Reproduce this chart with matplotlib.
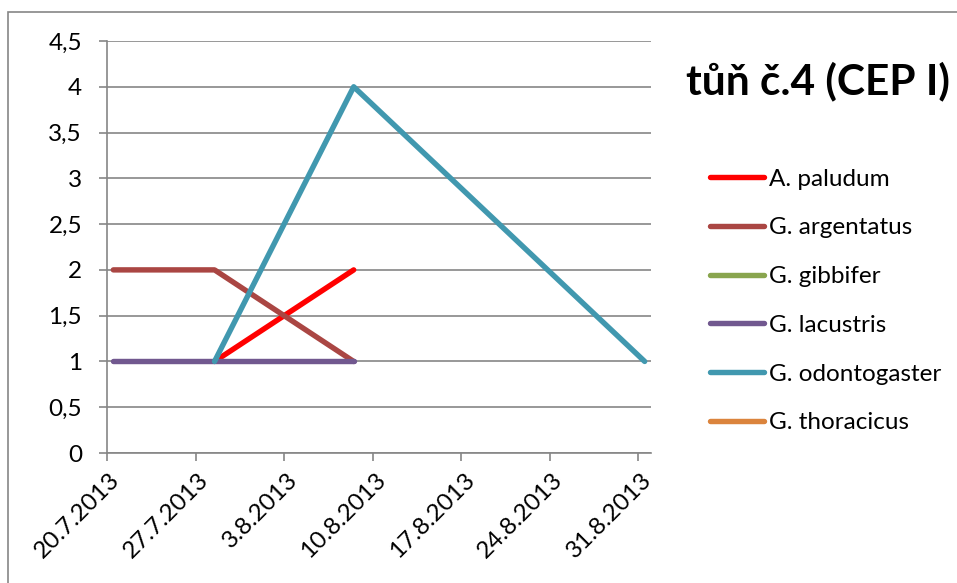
import matplotlib
matplotlib.use("Agg")

import numpy as np
import matplotlib.pyplot as plt
import matplotlib.transforms as mtransforms
from matplotlib.patches import Rectangle
from datetime import datetime, timedelta

plt.rcParams["font.family"] = ["Lato", "DejaVu Sans"]

# odběry (datum) a počty jedinců jednotlivých druhů
dates = ["20.7.2013", "28.7.2013", "8.8.2013", "31.8.2013"]
species = ["A. paludum", "G. argentatus", "G. gibbifer",
           "G. lacustris", "G. odontogaster", "G. thoracicus"]
a_paludum = [np.nan, 1, 2, np.nan]
g_argentatus = [2, 2, 1, np.nan]
g_gibbifer = [np.nan, np.nan, np.nan, np.nan]
g_lacustris = [1, 1, 1, np.nan]
g_odontogaster = [np.nan, 1, 4, 1]
g_thoracicus = [np.nan, np.nan, np.nan, np.nan]
series = [a_paludum, g_argentatus, g_gibbifer, g_lacustris, g_odontogaster, g_thoracicus]
colors = ["#FF0000", "#AA4643", "#89A54E", "#71588F", "#4198AF", "#DB843D"]

tick_dates = ["20.7.2013", "27.7.2013", "3.8.2013", "10.8.2013",
              "17.8.2013", "24.8.2013", "31.8.2013"]

W, H = 957, 583
fig = plt.figure(figsize=(W / 100, H / 100), dpi=100)
ax = fig.add_axes([107 / W, 1 - 453 / H, (651 - 107) / W, (453 - 41) / H])

parse = lambda s: datetime.strptime(s, "%d.%m.%Y")
# body leží uprostřed dne (jako v Excelu)
xs = [parse(d) + timedelta(hours=12) for d in dates]

grey = "#868686"
for vals, col, name in zip(series, colors, species):
    y = np.array(vals, dtype=float)
    m = ~np.isnan(y)
    ax.plot(np.array(xs)[m], y[m], color=col, lw=3.9, label=name,
            solid_capstyle="round", solid_joinstyle="round", zorder=3)

ax.set_xlim(parse(dates[0]), parse(dates[-1]) + timedelta(days=1))
ax.set_ylim(0, 4.5)
ax.set_yticks(np.arange(0, 4.51, 0.5))
ax.set_yticklabels([f"{v:g}".replace(".", ",") for v in np.arange(0, 4.51, 0.5)])
ax.set_xticks([parse(d) for d in tick_dates])
ax.set_xticklabels([])

# popisky dat - šikmo, konec textu kousek vpravo od značky
lab_tr = mtransforms.offset_copy(ax.get_xaxis_transform(), fig=fig,
                                 x=7, y=-17, units="points")
for d in tick_dates:
    ax.text(parse(d), 0, d, transform=lab_tr, rotation=45, ha="right",
            va="center", rotation_mode="anchor", fontsize=17.5)

ax.grid(axis="y", color=grey, lw=1.2)
ax.set_axisbelow(True)
for s in ["top", "right"]:
    ax.spines[s].set_visible(False)
for s in ["left", "bottom"]:
    ax.spines[s].set_color(grey)
    ax.spines[s].set_linewidth(1.2)
ax.tick_params(axis="both", color=grey, width=1.2, length=6, labelsize=17.5,
               labelcolor="black")
ax.tick_params(axis="y", pad=12)

leg = fig.legend(loc="upper left", bbox_to_anchor=(700 / W, 1 - 159 / H),
                 frameon=False, fontsize=17.5, handlelength=2.25,
                 handletextpad=0.2, labelspacing=1.14, borderaxespad=0)
for h in leg.get_lines():
    h.set_solid_capstyle("round")

fig.text(686 / W, 1 - 94 / H, "tůň č.4 (CEP I)", fontsize=30.5,
         fontweight="bold", ha="left", va="baseline")

# rámeček grafu
fig.patches.append(Rectangle((8 / W, -0.1), 1.2, 1 - 12 / H + 0.1,
                             transform=fig.transFigure, fill=False,
                             edgecolor=grey, lw=1.2))

fig.savefig("out.png", dpi=100, facecolor="white")
